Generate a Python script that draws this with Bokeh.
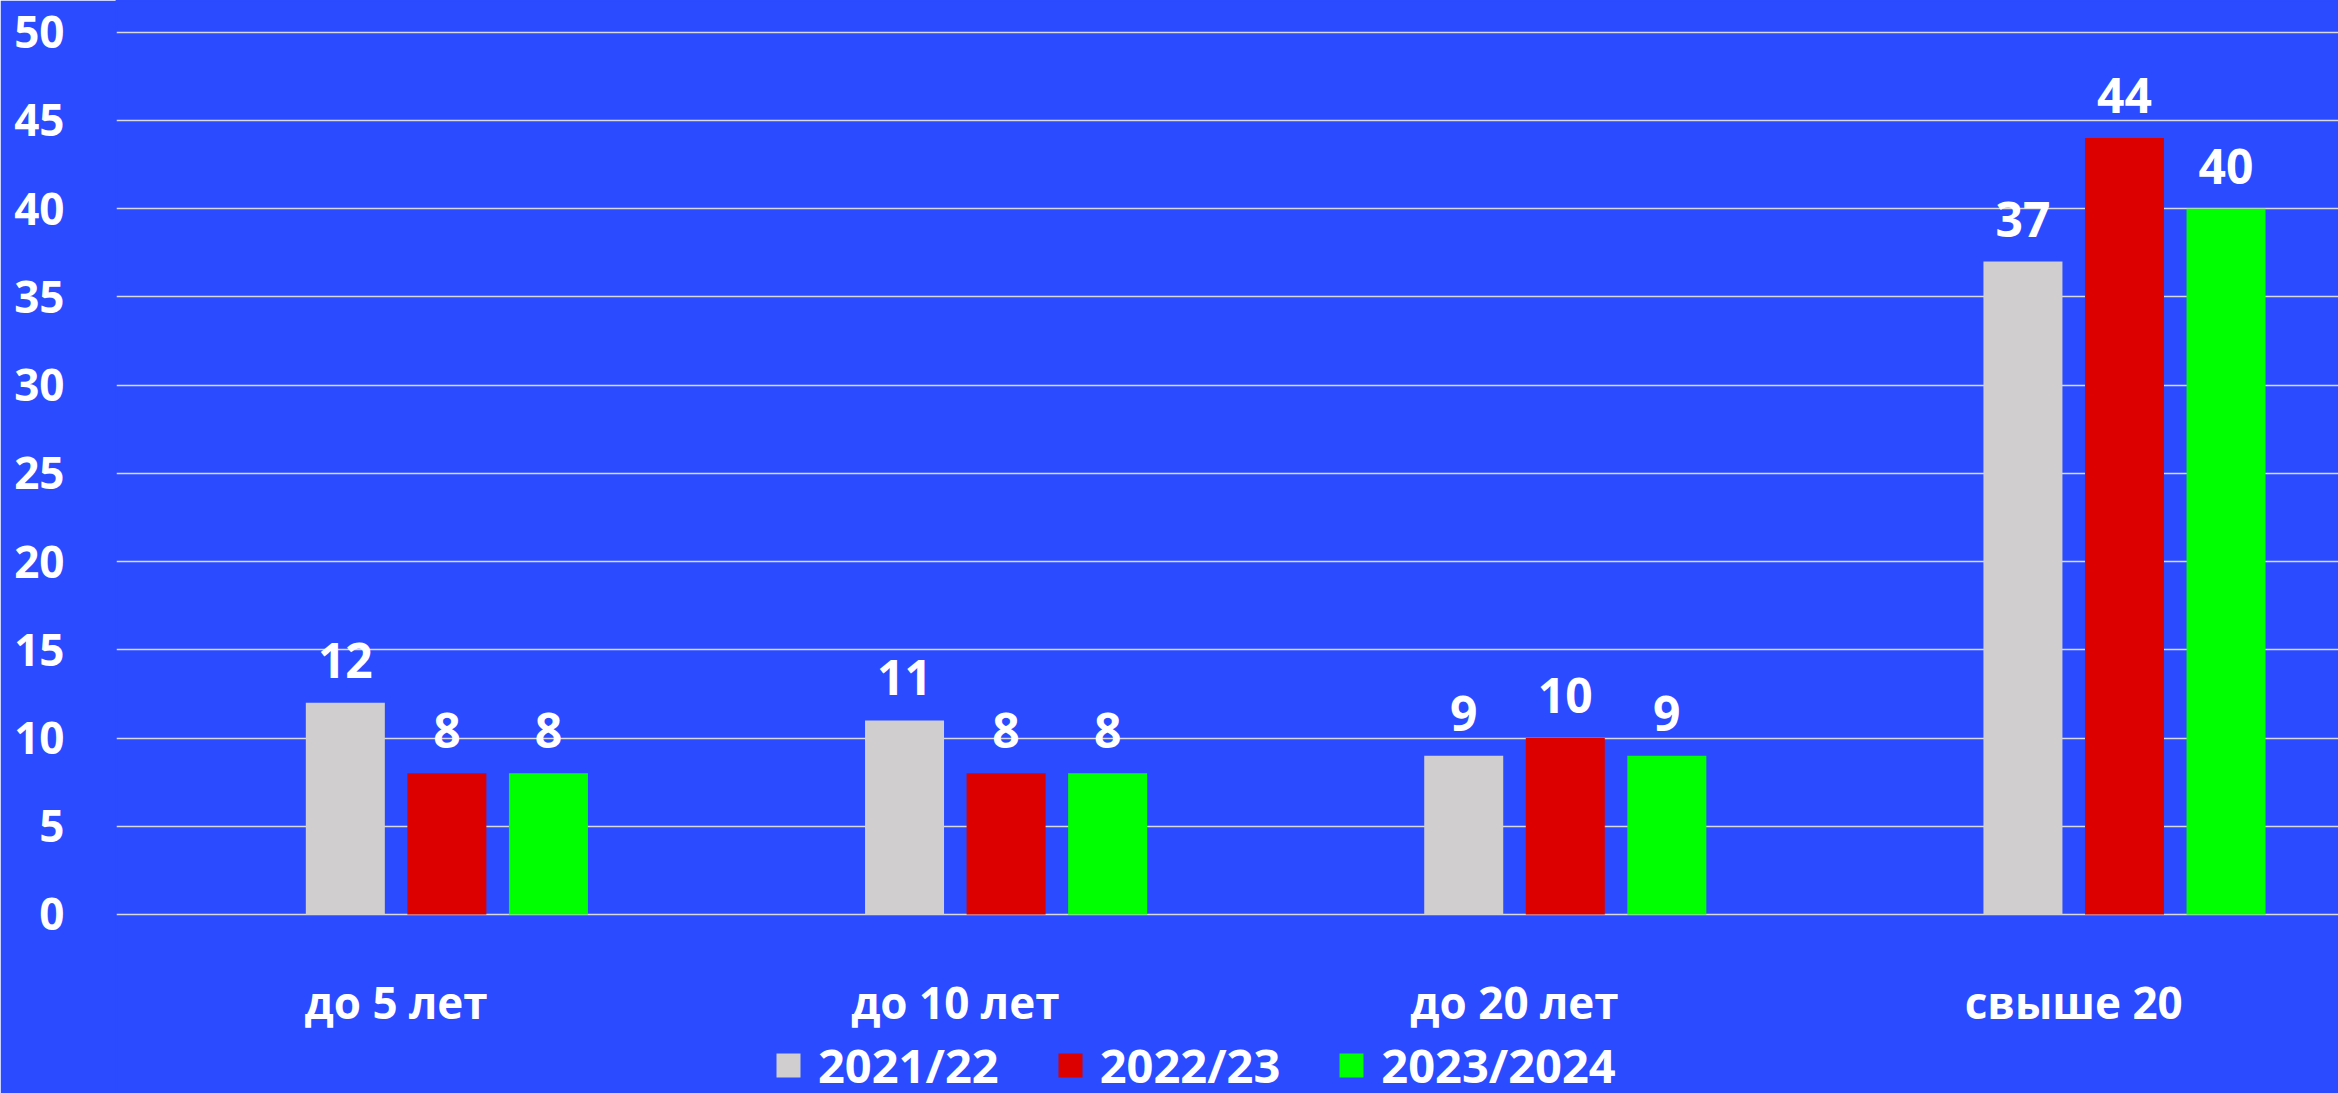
from bokeh.plotting import figure
from bokeh.models import ColumnDataSource, Legend, LegendItem, FixedTicker, LabelSet
from bokeh.core.properties import value
from bokeh.embed import file_html
from bokeh.resources import INLINE

categories = ["до 5 лет", "до 10 лет", "до 20 лет", "свыше 20"]
series_names = ["2021/22", "2022/23", "2023/2024"]
values_2021 = [12, 11, 9, 37]
values_2022 = [8, 8, 10, 44]
values_2023 = [8, 8, 9, 40]
y_ticks = [0, 5, 10, 15, 20, 25, 30, 35, 40, 45, 50]

colors = ["#D0CECE", "#DD0000", "#00FF00"]
BG = "#2A4BFF"
FONT = "Open Sans"

W, H = 2338, 1093
p = figure(width=W, height=H, output_backend="svg", toolbar_location=None,
           x_range=(0, 3.9735), y_range=(-10.144, 51.796),
           min_border_left=116, min_border_right=0, min_border_top=0,
           min_border_bottom=0)
p.background_fill_color = BG
p.border_fill_color = BG
p.outline_line_color = BG
p.outline_line_width = 2

pitch = 0.1816
offsets = [-0.5 * pitch, 0.5 * pitch, 1.5 * pitch]
bar_w = 0.1413

renderers = []
for vals, off, col in zip([values_2021, values_2022, values_2023], offsets, colors):
    xs = [i + 0.5 + off for i in range(len(categories))]
    src = ColumnDataSource(dict(x=xs, top=vals, lab=[str(v) for v in vals]))
    r = p.vbar(x="x", top="top", width=bar_w, source=src, fill_color=col, line_color=None)
    renderers.append(r)
    ls = LabelSet(x="x", y="top", text="lab", source=src, text_align="center",
                  text_baseline="alphabetic", y_offset=25, text_color="white",
                  text_font=value(FONT), text_font_style="bold", text_font_size="48px")
    p.add_layout(ls)

# category labels under the baseline
csrc = ColumnDataSource(dict(x=[i + 0.5 for i in range(len(categories))],
                             y=[0] * len(categories), t=categories))
p.text(x="x", y="y", text="t", source=csrc, y_offset=88, text_align="center",
       text_baseline="alphabetic", text_color="white", text_font=value(FONT),
       text_font_style="bold", text_font_size="44px")

# grid
p.xgrid.grid_line_color = None
p.ygrid.ticker = FixedTicker(ticks=y_ticks)
p.ygrid.grid_line_color = "#D9D9D9"
p.ygrid.grid_line_width = 1.5

# y axis
p.yaxis.ticker = FixedTicker(ticks=y_ticks)
p.yaxis.axis_line_color = None
p.yaxis.major_tick_line_color = None
p.yaxis.minor_tick_line_color = None
p.yaxis.major_label_text_color = "white"
p.yaxis.major_label_text_font = FONT
p.yaxis.major_label_text_font_style = "bold"
p.yaxis.major_label_text_font_size = "44px"
p.yaxis.major_label_standoff = 46

p.xaxis.visible = False

legend = Legend(items=[LegendItem(label=n, renderers=[r]) for n, r in zip(series_names, renderers)],
                orientation="horizontal", location=(657, -4))
legend.background_fill_alpha = 0
legend.border_line_color = None
legend.label_text_color = "white"
legend.label_text_font = FONT
legend.label_text_font_style = "bold"
legend.label_text_font_size = "47px"
legend.glyph_width = 30
legend.glyph_height = 30
legend.label_standoff = 15
legend.spacing = 56
legend.padding = 0
legend.margin = 0
p.add_layout(legend, "center")

open("out.html", "w").write(file_html(p, INLINE))
